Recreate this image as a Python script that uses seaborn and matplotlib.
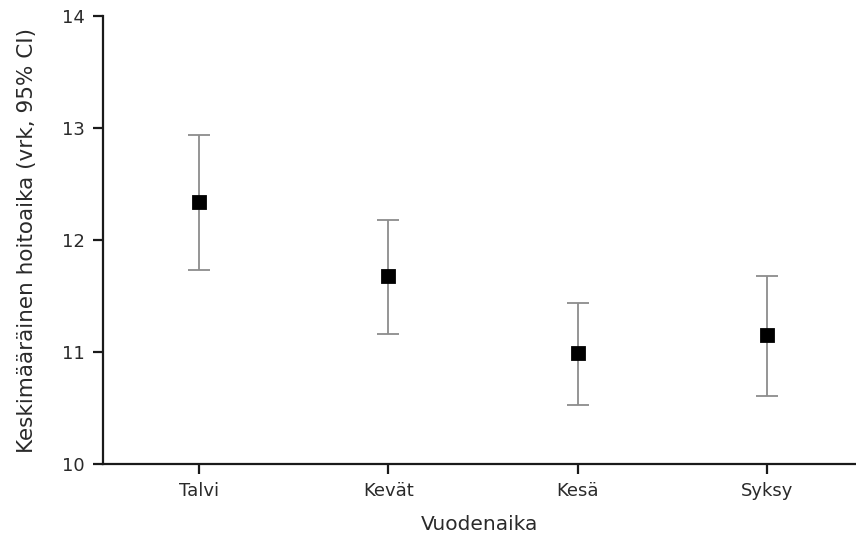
import numpy as np
import pandas as pd
import matplotlib
matplotlib.use("Agg")
import matplotlib.pyplot as plt
import seaborn as sns

# Mean length of stay by season with 95% CI
seasons = ["Talvi", "Kevät", "Kesä", "Syksy"]
means = [12.34, 11.68, 10.99, 11.15]
ci_low = [11.73, 11.16, 10.53, 10.61]
ci_high = [12.94, 12.18, 11.44, 11.68]

df = pd.DataFrame({"season": seasons, "mean": means, "lo": ci_low, "hi": ci_high})

sns.set_style("ticks")
plt.rcParams["font.family"] = ["DejaVu Sans"]

fig = plt.figure(figsize=(8.56, 5.36), dpi=100)
ax = fig.add_axes([0.1203, 0.1343, 0.8797, 0.8358])

pos = np.arange(len(df))
ax.errorbar(pos, df["mean"], yerr=[df["mean"] - df["lo"], df["hi"] - df["mean"]],
            fmt="none", ecolor="#8c8c8c", elinewidth=1.3, capsize=8, capthick=1.3, zorder=2)
sns.pointplot(data=df, x="season", y="mean", order=seasons, linestyle="none",
              marker="s", color="black", markersize=8.5, errorbar=None, ax=ax, zorder=3)

ax.set_xlim(-0.507, 3.47)
ax.set_ylim(10, 14)
ax.set_yticks([10, 11, 12, 13, 14])
ax.set_xticks(pos)
ax.set_xticklabels(seasons)

for s in ["top", "right"]:
    ax.spines[s].set_visible(False)
for s in ["left", "bottom"]:
    ax.spines[s].set_linewidth(1.6)
    ax.spines[s].set_color("#1a1a1a")
ax.tick_params(axis="both", direction="out", length=7, width=1.6, color="#1a1a1a",
               labelsize=13, labelcolor="#2a2a2a", pad=6)

ax.set_xlabel("Vuodenaika", fontsize=14.5, color="#2a2a2a", labelpad=11)
ax.set_ylabel("Keskimääräinen hoitoaika (vrk, 95% CI)", fontsize=15.5, color="#2a2a2a", labelpad=18)

fig.savefig("out.png", dpi=100)
